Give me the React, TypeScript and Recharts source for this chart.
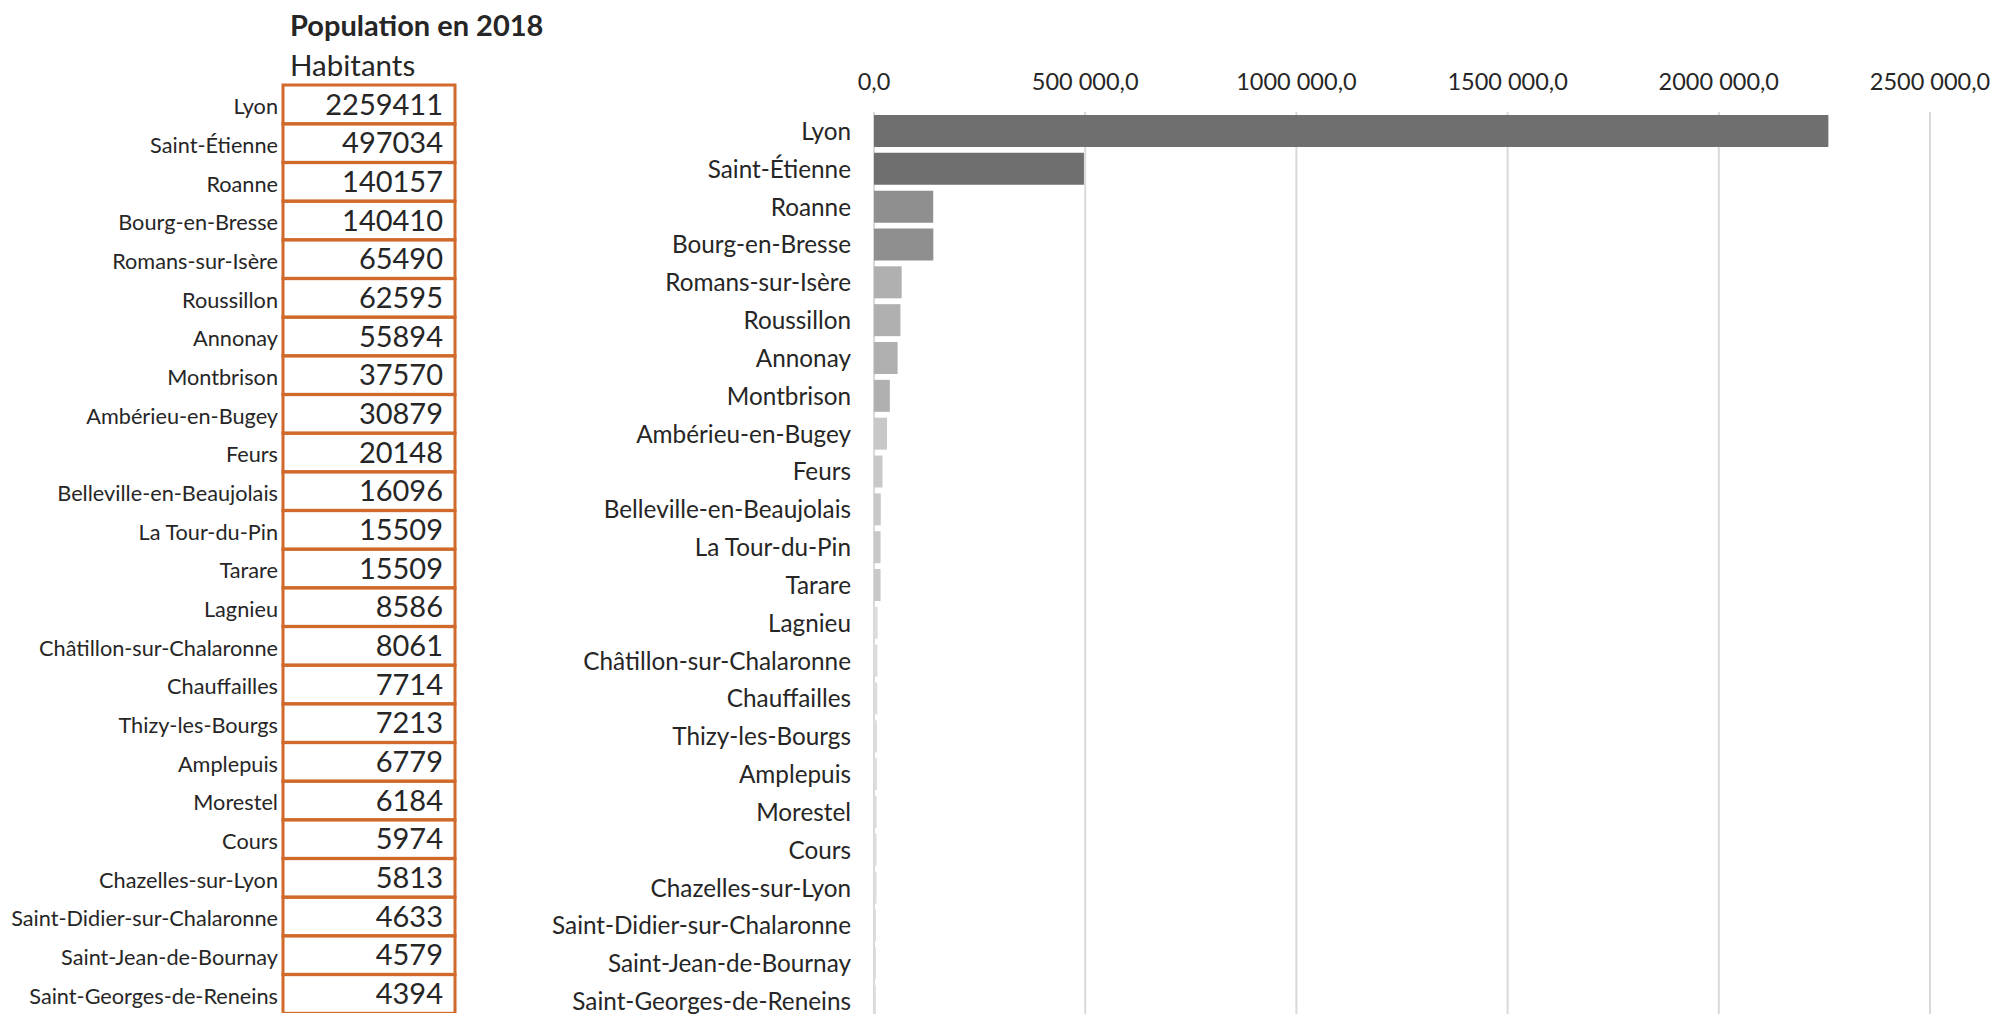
import React from 'react';
import { Bar, BarChart, CartesianGrid, Cell, XAxis, YAxis } from 'recharts';

const cities = [
  'Lyon',
  'Saint-Étienne',
  'Roanne',
  'Bourg-en-Bresse',
  'Romans-sur-Isère',
  'Roussillon',
  'Annonay',
  'Montbrison',
  'Ambérieu-en-Bugey',
  'Feurs',
  'Belleville-en-Beaujolais',
  'La Tour-du-Pin',
  'Tarare',
  'Lagnieu',
  'Châtillon-sur-Chalaronne',
  'Chauffailles',
  'Thizy-les-Bourgs',
  'Amplepuis',
  'Morestel',
  'Cours',
  'Chazelles-sur-Lyon',
  'Saint-Didier-sur-Chalaronne',
  'Saint-Jean-de-Bournay',
  'Saint-Georges-de-Reneins',
];

const population = [
  2259411, 497034, 140157, 140410, 65490, 62595, 55894, 37570, 30879, 20148,
  16096, 15509, 15509, 8586, 8061, 7714, 7213, 6779, 6184, 5974, 5813, 4633,
  4579, 4394,
];

const xTicks = [0, 500000, 1000000, 1500000, 2000000, 2500000];
const xTickLabels = ['0,0', '500 000,0', '1000 000,0', '1500 000,0', '2000 000,0', '2500 000,0'];

const rows = cities.map((name, i) => ({ name, pop: population[i] }));

const FONT = 'Lato, sans-serif';
const TEXT = '#262626';
const ORANGE = '#d0692a';

// grey shade by rank, darkest for the two big cities
function shade(i: number) {
  if (i < 2) return '#706f6f';
  if (i < 4) return '#8f8f8f';
  if (i < 8) return '#b0b0b0';
  if (i < 13) return '#c8c8c8';
  return '#dcdcdc';
}

const TopTick = ({ x, y, payload }: any) => (
  <text x={x} y={y} textAnchor="middle" fontSize={23.5} fontFamily={FONT} fill={TEXT}>
    {xTickLabels[xTicks.indexOf(payload.value)]}
  </text>
);

const CityTick = ({ x, y, payload }: any) => (
  <text x={x} y={y} dy={9} textAnchor="end" fontSize={24.3} fontFamily={FONT} fill={TEXT}>
    {payload.value}
  </text>
);

const TableLabel = ({ x, y, payload }: any) => (
  <text x={x} y={y} dy={10} textAnchor="end" fontSize={21.7} fontFamily={FONT} fill={TEXT}>
    {payload.value}
  </text>
);

const TableCell = (p: any) => (
  <g>
    <rect x={p.x} y={p.y} width={p.width} height={p.height} fill="none" stroke={ORANGE} strokeWidth={3} />
    <text
      x={p.x + p.width - 12}
      y={p.y + p.height / 2}
      dy={10}
      textAnchor="end"
      fontSize={29}
      fontFamily={FONT}
      fill={TEXT}
    >
      {p.payload.pop}
    </text>
  </g>
);

export default function App() {
  return (
    <div
      style={{
        position: 'absolute',
        left: 0,
        top: 0,
        width: 1995,
        height: 1014,
        overflow: 'hidden',
        background: '#fff',
        fontFamily: FONT,
      }}
    >
      <svg style={{ position: 'absolute', left: 0, top: 0 }} width={700} height={85}>
        <text x={290} y={36} fontSize={29} fontWeight={700} fontFamily={FONT} fill={TEXT}>
          Population en 2018
        </text>
        <text x={290} y={76} fontSize={29.5} fontFamily={FONT} fill={TEXT}>
          Habitants
        </text>
      </svg>

      {/* table on the left */}
      <div style={{ position: 'absolute', left: 0, top: 0 }}>
        <BarChart
          width={470}
          height={1013}
          data={rows}
          layout="vertical"
          margin={{ top: 85, right: 15, bottom: 0, left: 0 }}
          barCategoryGap={0}
        >
          <XAxis type="number" hide domain={[0, 1]} />
          <YAxis
            type="category"
            dataKey="name"
            width={283}
            axisLine={false}
            tickLine={false}
            tickSize={0}
            tickMargin={5}
            interval={0}
            tick={<TableLabel />}
          />
          <Bar dataKey={() => 1} isAnimationActive={false} shape={<TableCell />} />
        </BarChart>
      </div>

      {/* bar chart */}
      <div style={{ position: 'absolute', left: 470, top: 0 }}>
        <BarChart
          width={1525}
          height={1020}
          data={rows}
          layout="vertical"
          margin={{ top: 0, right: 65, bottom: 0, left: 0 }}
          barSize={32}
        >
          <CartesianGrid horizontal={false} stroke="#d9d9d9" strokeWidth={2} />
          <XAxis
            type="number"
            orientation="top"
            domain={[0, 2500000]}
            ticks={xTicks}
            height={112}
            tickSize={0}
            tickMargin={22}
            axisLine={false}
            tickLine={false}
            interval={0}
            tick={<TopTick />}
          />
          <YAxis
            type="category"
            dataKey="name"
            width={404}
            axisLine={false}
            tickLine={false}
            tickSize={0}
            tickMargin={23}
            interval={0}
            tick={<CityTick />}
          />
          <Bar dataKey="pop" isAnimationActive={false}>
            {rows.map((r, i) => (
              <Cell key={r.name} fill={shade(i)} />
            ))}
          </Bar>
        </BarChart>
      </div>
    </div>
  );
}
